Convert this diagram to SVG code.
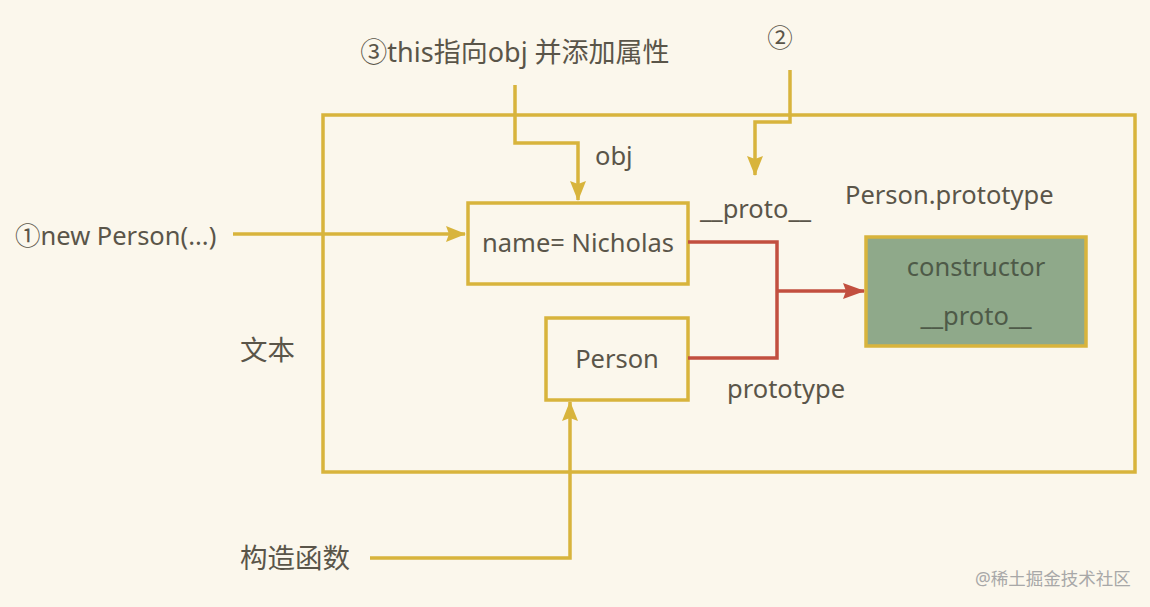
<svg xmlns="http://www.w3.org/2000/svg" width="1150" height="607" viewBox="0 0 1150 607">
<style>
text{font-family:"Noto Sans","Noto Sans CJK SC",sans-serif;font-size:25.5px;fill:#5a5549}
.cjk{font-size:27.5px}
.box{fill:none;stroke:#d8b43c;stroke-width:3.5}
.y{fill:none;stroke:#d8b43c;stroke-width:3.5}
.r{fill:none;stroke:#c24f3f;stroke-width:3.5}
.mid{text-anchor:middle}
.g{fill:#4e5a48}
</style>
<defs>
<marker id="ay2" markerWidth="20" markerHeight="16" refX="19" refY="8" orient="auto" markerUnits="userSpaceOnUse" viewBox="0 0 20 16"><path d="M0,0 L20,8 L0,16 L3,8 Z" fill="#d8b43c"/></marker>
<marker id="ar2" markerWidth="22" markerHeight="16" refX="21" refY="8" orient="auto" markerUnits="userSpaceOnUse" viewBox="0 0 22 16"><path d="M0,0 L22,8 L0,16 L3,8 Z" fill="#c24f3f"/></marker>
<linearGradient id="bg" x1="0" y1="0" x2="1" y2="1"><stop offset="0" stop-color="#f8efd6"/><stop offset="1" stop-color="#f8f0dc"/></linearGradient>
</defs>
<rect width="1150" height="607" fill="#fbf7ec"/>
<g id="container">
<rect x="323" y="115" width="812" height="357" fill="url(#bg)" class="box"/>
<text x="240" y="360" class="cjk">文本</text>
</g>
<g id="obj">
<rect x="468" y="203" width="220" height="81" class="box"/>
<text x="578" y="252" class="mid">name= Nicholas</text>
</g>
<g id="person">
<rect x="546" y="318" width="142" height="82" class="box"/>
<text x="617" y="368" class="mid">Person</text>
</g>
<g id="prototype">
<text x="845" y="204">Person.prototype</text>
<rect x="866" y="237" width="220" height="109" fill="#8fa98a" stroke="#d8b43c" stroke-width="3.5"/>
<text x="976" y="276" class="mid g">constructor</text>
<text x="976" y="325" class="mid g">__proto__</text>
</g>
<g id="connectors">
<path d="M233,234 H465" class="y" marker-end="url(#ay2)"/>
<path d="M515,85 V143 H578 V200" class="y" marker-end="url(#ay2)"/>
<path d="M790,70 V122 H755 V175" class="y" marker-end="url(#ay2)"/>
<path d="M370,558 H570 V402" class="y" marker-end="url(#ay2)"/>
<path d="M688,242 H777 V358 H688" class="r"/>
<path d="M777,291 H864" class="r" marker-end="url(#ar2)"/>
</g>
<g id="labels">
<text x="15" y="245">①new Person(...)</text>
<text x="515" y="62" class="mid" style="font-size:27px">③this指向obj 并添加属性</text>
<text x="780" y="47" class="mid">②</text>
<text x="595" y="165">obj</text>
<text x="700" y="218">__proto__</text>
<text x="727" y="398">prototype</text>
<text x="240" y="568" class="cjk">构造函数</text>
<text x="975" y="585" style="font-size:17.5px;fill:#a8a8a8">@稀土掘金技术社区</text>
</g>
</svg>
